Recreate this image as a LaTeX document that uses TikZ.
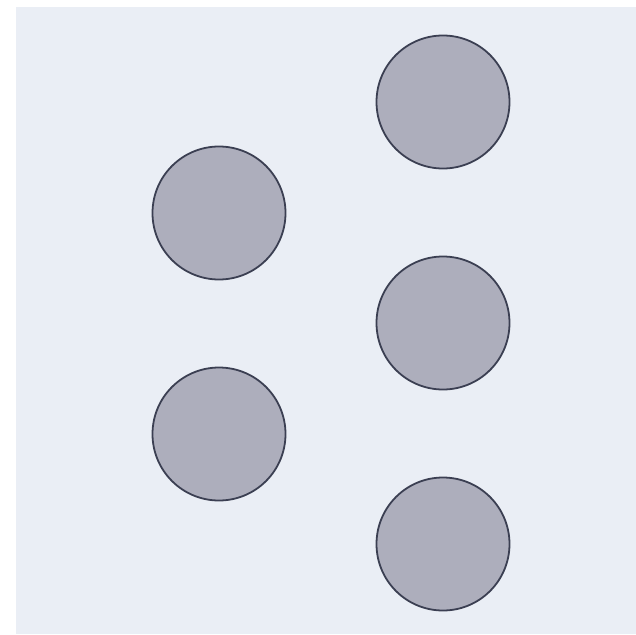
\documentclass[tikz,border=0pt]{standalone}
\usepackage{xcolor}

\begin{document}
\begin{tikzpicture}[
    x=1pt, y=-1pt,
    unit/.style={circle, draw=vstroke, fill=vfill, line width=1.8pt,
        minimum size=133pt, inner sep=0pt}
]

\definecolor{vback}{HTML}{EAEEF5}
\definecolor{vfill}{HTML}{ADAEBC}
\definecolor{vstroke}{HTML}{3B3F52}

\useasboundingbox (0, 0) rectangle (636, 634);

% ==========================================
% 1. BACKGROUND
% ==========================================

\fill[vback] (16, 7) rectangle (636, 634);

% ==========================================
% 2. UNITS
% ==========================================

% Left column
\node[unit] (left1) at (219, 213) {};
\node[unit] (left2) at (219, 434) {};

% Right column
\node[unit] (right1) at (443, 102) {};
\node[unit] (right2) at (443, 323) {};
\node[unit] (right3) at (443, 544) {};

\end{tikzpicture}
\end{document}
